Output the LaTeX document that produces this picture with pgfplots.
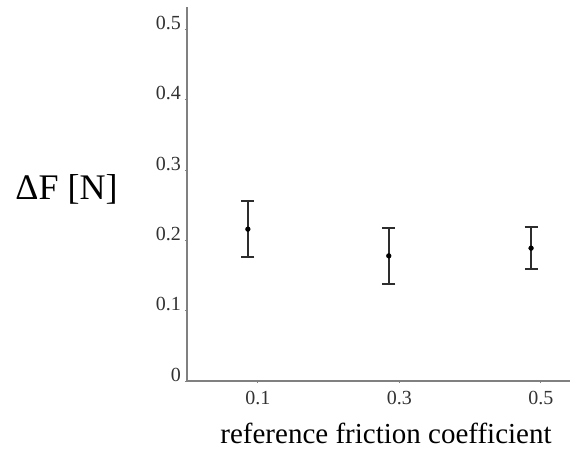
\documentclass[border=0pt]{standalone}
\usepackage{fontspec}
\setmainfont{Liberation Serif}
\usepackage{pgfplots}
\pgfplotsset{compat=1.18}

\definecolor{axisgray}{RGB}{128,128,128}
\definecolor{ticktext}{RGB}{50,50,50}
\definecolor{barcol}{RGB}{45,45,45}

\begin{document}
\begin{tikzpicture}
\begin{axis}[
    scale only axis,
    width=383bp,
    height=374bp,
    xmin=0, xmax=0.541,
    ymin=0, ymax=0.532,
    axis lines=left,
    axis line style={-, axisgray, line width=1.6bp},
    xtick={0.1,0.3,0.5},
    ytick={0,0.1,0.2,0.3,0.4,0.5},
    xticklabels={0.1,0.3,0.5},
    yticklabels={0,0.1,0.2,0.3,0.4,0.5},
    tick align=outside,
    major tick length=2bp,
    tick style={axisgray, line width=1bp},
    tick label style={font=\fontsize{20bp}{22bp}\selectfont, text=ticktext, inner sep=0pt},
    yticklabel style={anchor=base east, xshift=-4bp},
    xticklabel style={anchor=north, yshift=-8bp},
    every axis x label/.style={at={(rel axis cs:0,0)}, anchor=base, xshift=199bp, yshift=-62bp},
    every axis y label/.style={at={(rel axis cs:0,0)}, anchor=base, xshift=-120.5bp, yshift=181bp},
    xlabel={reference friction coefficient},
    ylabel={ΔF [N]},
    xlabel style={font=\fontsize{29bp}{32bp}\selectfont},
    ylabel style={font=\fontsize{36bp}{40bp}\selectfont},
    clip=false,
]
\addplot[
    only marks,
    mark=*,
    mark size=2.4bp,
    mark options={fill=black, draw=black},
    error bars/.cd,
        y dir=both,
        y explicit,
        error bar style={barcol, line width=1.6bp},
        error mark options={rotate=90, mark size=6.5bp, line width=1.6bp, barcol},
] coordinates {
    (0.086,0.216) +- (0,0.040)
    (0.285,0.178) +- (0,0.040)
    (0.486,0.189) +- (0,0.030)
};
\coordinate (O) at (rel axis cs:0,0);
\end{axis}
\path (O) ++(-187bp,-68bp) rectangle ++(571bp,449bp);
\end{tikzpicture}
\end{document}
